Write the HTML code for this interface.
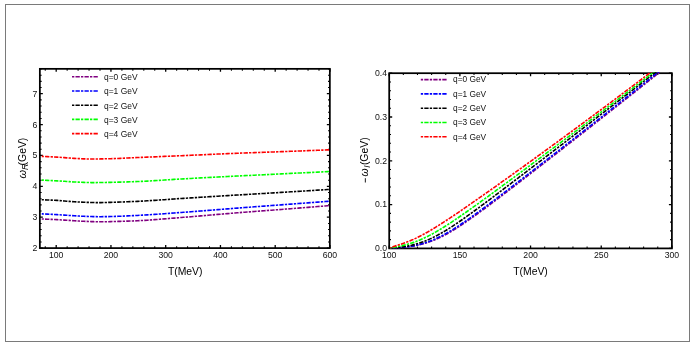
<!DOCTYPE html>
<html><head><meta charset="utf-8"><title>plot</title>
<style>
html,body{margin:0;padding:0;background:#fff;}
svg{display:block;will-change:transform;}
text{font-family:"Liberation Sans", sans-serif;fill:#111;}
.a{fill:#000;}
.t{font-size:8.7px;}
.a{font-size:10.4px;}
</style></head><body>
<svg width="695" height="346" viewBox="0 0 695 346">
<rect x="0" y="0" width="695" height="346" fill="#fff"/>
<rect x="5.5" y="4.5" width="684" height="337" fill="none" stroke="#7a7a7a" stroke-width="1"/>
<defs>
<clipPath id="cl"><rect x="41.45" y="68.85" width="289.3" height="179.25"/></clipPath>
<clipPath id="cr"><rect x="390.09999999999997" y="72.3" width="282.7" height="176.2"/></clipPath>
</defs>

<rect x="39.85" y="68.85" width="290.00" height="179.25" fill="none" stroke="#000" stroke-width="1.75"/>
<rect x="389.2" y="73.2" width="282.70" height="175.20" fill="none" stroke="#000" stroke-width="1.75"/>
<path d="M56.20,248.1v-3.0M56.20,68.85v3.0M110.95,248.1v-3.0M110.95,68.85v3.0M165.70,248.1v-3.0M165.70,68.85v3.0M220.45,248.1v-3.0M220.45,68.85v3.0M275.20,248.1v-3.0M275.20,68.85v3.0M329.95,248.1v-3.0M329.95,68.85v3.0M39.85,248.10h3.0M329.85,248.10h-3.0M39.85,217.22h3.0M329.85,217.22h-3.0M39.85,186.34h3.0M329.85,186.34h-3.0M39.85,155.46h3.0M329.85,155.46h-3.0M39.85,124.58h3.0M329.85,124.58h-3.0M39.85,93.70h3.0M329.85,93.70h-3.0" stroke="#000" stroke-width="1.3" fill="none"/><path d="M45.25,248.1v-1.8M45.25,68.85v1.8M67.15,248.1v-1.8M67.15,68.85v1.8M78.10,248.1v-1.8M78.10,68.85v1.8M89.05,248.1v-1.8M89.05,68.85v1.8M100.00,248.1v-1.8M100.00,68.85v1.8M121.90,248.1v-1.8M121.90,68.85v1.8M132.85,248.1v-1.8M132.85,68.85v1.8M143.80,248.1v-1.8M143.80,68.85v1.8M154.75,248.1v-1.8M154.75,68.85v1.8M176.65,248.1v-1.8M176.65,68.85v1.8M187.60,248.1v-1.8M187.60,68.85v1.8M198.55,248.1v-1.8M198.55,68.85v1.8M209.50,248.1v-1.8M209.50,68.85v1.8M231.40,248.1v-1.8M231.40,68.85v1.8M242.35,248.1v-1.8M242.35,68.85v1.8M253.30,248.1v-1.8M253.30,68.85v1.8M264.25,248.1v-1.8M264.25,68.85v1.8M286.15,248.1v-1.8M286.15,68.85v1.8M297.10,248.1v-1.8M297.10,68.85v1.8M308.05,248.1v-1.8M308.05,68.85v1.8M319.00,248.1v-1.8M319.00,68.85v1.8M39.85,241.92h1.8M329.85,241.92h-1.8M39.85,235.75h1.8M329.85,235.75h-1.8M39.85,229.57h1.8M329.85,229.57h-1.8M39.85,223.40h1.8M329.85,223.40h-1.8M39.85,211.04h1.8M329.85,211.04h-1.8M39.85,204.87h1.8M329.85,204.87h-1.8M39.85,198.69h1.8M329.85,198.69h-1.8M39.85,192.52h1.8M329.85,192.52h-1.8M39.85,180.16h1.8M329.85,180.16h-1.8M39.85,173.99h1.8M329.85,173.99h-1.8M39.85,167.81h1.8M329.85,167.81h-1.8M39.85,161.64h1.8M329.85,161.64h-1.8M39.85,149.28h1.8M329.85,149.28h-1.8M39.85,143.11h1.8M329.85,143.11h-1.8M39.85,136.93h1.8M329.85,136.93h-1.8M39.85,130.76h1.8M329.85,130.76h-1.8M39.85,118.40h1.8M329.85,118.40h-1.8M39.85,112.23h1.8M329.85,112.23h-1.8M39.85,106.05h1.8M329.85,106.05h-1.8M39.85,99.88h1.8M329.85,99.88h-1.8M39.85,87.52h1.8M329.85,87.52h-1.8M39.85,81.35h1.8M329.85,81.35h-1.8M39.85,75.17h1.8M329.85,75.17h-1.8M39.85,69.00h1.8M329.85,69.00h-1.8" stroke="#000" stroke-width="1.05" fill="none"/>
<path d="M389.20,248.4v-3.0M389.20,73.2v3.0M459.88,248.4v-3.0M459.88,73.2v3.0M530.55,248.4v-3.0M530.55,73.2v3.0M601.23,248.4v-3.0M601.23,73.2v3.0M671.90,248.4v-3.0M671.90,73.2v3.0M389.2,248.40h3.0M671.9,248.40h-3.0M389.2,204.60h3.0M671.9,204.60h-3.0M389.2,160.80h3.0M671.9,160.80h-3.0M389.2,117.00h3.0M671.9,117.00h-3.0M389.2,73.20h3.0M671.9,73.20h-3.0" stroke="#000" stroke-width="1.3" fill="none"/><path d="M403.33,248.4v-1.8M403.33,73.2v1.8M417.47,248.4v-1.8M417.47,73.2v1.8M431.61,248.4v-1.8M431.61,73.2v1.8M445.74,248.4v-1.8M445.74,73.2v1.8M474.01,248.4v-1.8M474.01,73.2v1.8M488.14,248.4v-1.8M488.14,73.2v1.8M502.28,248.4v-1.8M502.28,73.2v1.8M516.41,248.4v-1.8M516.41,73.2v1.8M544.68,248.4v-1.8M544.68,73.2v1.8M558.82,248.4v-1.8M558.82,73.2v1.8M572.95,248.4v-1.8M572.95,73.2v1.8M587.09,248.4v-1.8M587.09,73.2v1.8M615.36,248.4v-1.8M615.36,73.2v1.8M629.50,248.4v-1.8M629.50,73.2v1.8M643.63,248.4v-1.8M643.63,73.2v1.8M657.76,248.4v-1.8M657.76,73.2v1.8M389.2,239.64h1.8M671.9,239.64h-1.8M389.2,230.88h1.8M671.9,230.88h-1.8M389.2,222.12h1.8M671.9,222.12h-1.8M389.2,213.36h1.8M671.9,213.36h-1.8M389.2,195.84h1.8M671.9,195.84h-1.8M389.2,187.08h1.8M671.9,187.08h-1.8M389.2,178.32h1.8M671.9,178.32h-1.8M389.2,169.56h1.8M671.9,169.56h-1.8M389.2,152.04h1.8M671.9,152.04h-1.8M389.2,143.28h1.8M671.9,143.28h-1.8M389.2,134.52h1.8M671.9,134.52h-1.8M389.2,125.76h1.8M671.9,125.76h-1.8M389.2,108.24h1.8M671.9,108.24h-1.8M389.2,99.48h1.8M671.9,99.48h-1.8M389.2,90.72h1.8M671.9,90.72h-1.8M389.2,81.96h1.8M671.9,81.96h-1.8" stroke="#000" stroke-width="1.05" fill="none"/>
<g clip-path="url(#cl)" fill="none" stroke-width="1.6" stroke-dasharray="2.3 1.2 4.33 1.2">
<path d="M40.00,218.90 L42.44,218.99 L44.87,219.08 L47.31,219.18 L49.74,219.29 L52.18,219.40 L54.62,219.52 L57.05,219.65 L59.49,219.78 L61.93,219.93 L64.36,220.09 L66.80,220.26 L69.23,220.42 L71.67,220.58 L74.11,220.73 L76.54,220.89 L78.98,221.04 L81.41,221.18 L83.85,221.31 L86.29,221.41 L88.72,221.50 L91.16,221.59 L93.59,221.67 L96.03,221.74 L98.47,221.78 L100.90,221.80 L103.34,221.79 L105.78,221.75 L108.21,221.69 L110.65,221.62 L113.08,221.55 L115.52,221.49 L117.96,221.42 L120.39,221.35 L122.83,221.28 L125.26,221.20 L127.70,221.12 L130.14,221.04 L132.57,220.94 L135.01,220.84 L137.45,220.73 L139.88,220.61 L142.32,220.48 L144.75,220.34 L147.19,220.19 L149.63,220.02 L152.06,219.85 L154.50,219.67 L156.93,219.49 L159.37,219.30 L161.81,219.10 L164.24,218.90 L166.68,218.70 L169.12,218.50 L171.55,218.29 L173.99,218.09 L176.42,217.88 L178.86,217.68 L181.30,217.48 L183.73,217.28 L186.17,217.09 L188.60,216.89 L191.04,216.70 L193.48,216.50 L195.91,216.30 L198.35,216.09 L200.78,215.89 L203.22,215.68 L205.66,215.47 L208.09,215.26 L210.53,215.05 L212.97,214.84 L215.40,214.63 L217.84,214.42 L220.27,214.21 L222.71,214.00 L225.15,213.80 L227.58,213.59 L230.02,213.39 L232.45,213.19 L234.89,212.99 L237.33,212.79 L239.76,212.60 L242.20,212.41 L244.64,212.22 L247.07,212.03 L249.51,211.84 L251.94,211.66 L254.38,211.47 L256.82,211.29 L259.25,211.10 L261.69,210.92 L264.12,210.74 L266.56,210.55 L269.00,210.37 L271.43,210.19 L273.87,210.00 L276.31,209.82 L278.74,209.63 L281.18,209.44 L283.61,209.25 L286.05,209.06 L288.49,208.87 L290.92,208.68 L293.36,208.49 L295.79,208.30 L298.23,208.11 L300.67,207.92 L303.10,207.73 L305.54,207.54 L307.97,207.34 L310.41,207.15 L312.85,206.96 L315.28,206.76 L317.72,206.57 L320.16,206.38 L322.59,206.18 L325.03,205.99 L327.46,205.79 L329.90,205.60" stroke="#800080" stroke-dashoffset="7.48"/>
<path d="M40.00,213.80 L42.44,213.91 L44.87,214.02 L47.31,214.13 L49.74,214.25 L52.18,214.38 L54.62,214.51 L57.05,214.65 L59.49,214.79 L61.93,214.94 L64.36,215.10 L66.80,215.26 L69.23,215.43 L71.67,215.58 L74.11,215.73 L76.54,215.89 L78.98,216.05 L81.41,216.19 L83.85,216.32 L86.29,216.41 L88.72,216.49 L91.16,216.56 L93.59,216.62 L96.03,216.67 L98.47,216.70 L100.90,216.70 L103.34,216.67 L105.78,216.63 L108.21,216.58 L110.65,216.52 L113.08,216.45 L115.52,216.39 L117.96,216.31 L120.39,216.23 L122.83,216.13 L125.26,216.03 L127.70,215.91 L130.14,215.80 L132.57,215.67 L135.01,215.55 L137.45,215.43 L139.88,215.29 L142.32,215.16 L144.75,215.01 L147.19,214.86 L149.63,214.71 L152.06,214.55 L154.50,214.39 L156.93,214.22 L159.37,214.05 L161.81,213.88 L164.24,213.70 L166.68,213.53 L169.12,213.35 L171.55,213.17 L173.99,212.99 L176.42,212.81 L178.86,212.62 L181.30,212.44 L183.73,212.27 L186.17,212.09 L188.60,211.91 L191.04,211.73 L193.48,211.54 L195.91,211.36 L198.35,211.17 L200.78,210.98 L203.22,210.79 L205.66,210.60 L208.09,210.40 L210.53,210.21 L212.97,210.02 L215.40,209.82 L217.84,209.63 L220.27,209.43 L222.71,209.24 L225.15,209.04 L227.58,208.85 L230.02,208.66 L232.45,208.47 L234.89,208.28 L237.33,208.10 L239.76,207.91 L242.20,207.73 L244.64,207.55 L247.07,207.36 L249.51,207.18 L251.94,207.00 L254.38,206.82 L256.82,206.64 L259.25,206.46 L261.69,206.28 L264.12,206.10 L266.56,205.92 L269.00,205.74 L271.43,205.56 L273.87,205.38 L276.31,205.20 L278.74,205.02 L281.18,204.84 L283.61,204.65 L286.05,204.47 L288.49,204.29 L290.92,204.11 L293.36,203.93 L295.79,203.75 L298.23,203.56 L300.67,203.38 L303.10,203.20 L305.54,203.02 L307.97,202.84 L310.41,202.66 L312.85,202.47 L315.28,202.29 L317.72,202.11 L320.16,201.93 L322.59,201.75 L325.03,201.56 L327.46,201.38 L329.90,201.20" stroke="#0000ff" stroke-dashoffset="7.48"/>
<path d="M40.00,199.70 L42.44,199.76 L44.87,199.84 L47.31,199.94 L49.74,200.04 L52.18,200.16 L54.62,200.28 L57.05,200.42 L59.49,200.60 L61.93,200.79 L64.36,201.00 L66.80,201.21 L69.23,201.41 L71.67,201.58 L74.11,201.73 L76.54,201.88 L78.98,202.03 L81.41,202.15 L83.85,202.26 L86.29,202.34 L88.72,202.42 L91.16,202.49 L93.59,202.55 L96.03,202.59 L98.47,202.60 L100.90,202.58 L103.34,202.54 L105.78,202.48 L108.21,202.41 L110.65,202.33 L113.08,202.26 L115.52,202.18 L117.96,202.11 L120.39,202.03 L122.83,201.95 L125.26,201.85 L127.70,201.76 L130.14,201.66 L132.57,201.55 L135.01,201.45 L137.45,201.33 L139.88,201.21 L142.32,201.08 L144.75,200.94 L147.19,200.80 L149.63,200.65 L152.06,200.50 L154.50,200.34 L156.93,200.18 L159.37,200.02 L161.81,199.85 L164.24,199.68 L166.68,199.51 L169.12,199.34 L171.55,199.17 L173.99,199.00 L176.42,198.83 L178.86,198.67 L181.30,198.50 L183.73,198.34 L186.17,198.19 L188.60,198.04 L191.04,197.88 L193.48,197.73 L195.91,197.58 L198.35,197.42 L200.78,197.27 L203.22,197.12 L205.66,196.97 L208.09,196.82 L210.53,196.67 L212.97,196.51 L215.40,196.36 L217.84,196.21 L220.27,196.06 L222.71,195.91 L225.15,195.76 L227.58,195.61 L230.02,195.46 L232.45,195.32 L234.89,195.17 L237.33,195.02 L239.76,194.87 L242.20,194.73 L244.64,194.58 L247.07,194.44 L249.51,194.29 L251.94,194.15 L254.38,194.00 L256.82,193.86 L259.25,193.71 L261.69,193.57 L264.12,193.43 L266.56,193.28 L269.00,193.14 L271.43,192.99 L273.87,192.85 L276.31,192.70 L278.74,192.56 L281.18,192.41 L283.61,192.26 L286.05,192.11 L288.49,191.97 L290.92,191.82 L293.36,191.67 L295.79,191.52 L298.23,191.37 L300.67,191.22 L303.10,191.07 L305.54,190.92 L307.97,190.77 L310.41,190.62 L312.85,190.47 L315.28,190.32 L317.72,190.16 L320.16,190.01 L322.59,189.86 L325.03,189.71 L327.46,189.55 L329.90,189.40" stroke="#000000" stroke-dashoffset="7.48"/>
<path d="M40.00,180.00 L42.44,180.11 L44.87,180.22 L47.31,180.33 L49.74,180.46 L52.18,180.58 L54.62,180.71 L57.05,180.85 L59.49,180.99 L61.93,181.15 L64.36,181.32 L66.80,181.50 L69.23,181.67 L71.67,181.83 L74.11,181.96 L76.54,182.07 L78.98,182.17 L81.41,182.28 L83.85,182.38 L86.29,182.46 L88.72,182.53 L91.16,182.58 L93.59,182.60 L96.03,182.59 L98.47,182.57 L100.90,182.54 L103.34,182.49 L105.78,182.44 L108.21,182.38 L110.65,182.33 L113.08,182.28 L115.52,182.22 L117.96,182.16 L120.39,182.10 L122.83,182.03 L125.26,181.96 L127.70,181.89 L130.14,181.81 L132.57,181.72 L135.01,181.64 L137.45,181.54 L139.88,181.44 L142.32,181.33 L144.75,181.21 L147.19,181.08 L149.63,180.95 L152.06,180.81 L154.50,180.66 L156.93,180.52 L159.37,180.36 L161.81,180.21 L164.24,180.05 L166.68,179.89 L169.12,179.73 L171.55,179.58 L173.99,179.42 L176.42,179.27 L178.86,179.12 L181.30,178.97 L183.73,178.83 L186.17,178.69 L188.60,178.56 L191.04,178.43 L193.48,178.29 L195.91,178.16 L198.35,178.03 L200.78,177.91 L203.22,177.78 L205.66,177.65 L208.09,177.52 L210.53,177.40 L212.97,177.27 L215.40,177.15 L217.84,177.02 L220.27,176.90 L222.71,176.77 L225.15,176.65 L227.58,176.53 L230.02,176.40 L232.45,176.28 L234.89,176.16 L237.33,176.03 L239.76,175.91 L242.20,175.79 L244.64,175.67 L247.07,175.55 L249.51,175.43 L251.94,175.31 L254.38,175.19 L256.82,175.07 L259.25,174.95 L261.69,174.84 L264.12,174.72 L266.56,174.60 L269.00,174.48 L271.43,174.36 L273.87,174.25 L276.31,174.13 L278.74,174.01 L281.18,173.89 L283.61,173.77 L286.05,173.65 L288.49,173.53 L290.92,173.41 L293.36,173.29 L295.79,173.17 L298.23,173.05 L300.67,172.93 L303.10,172.81 L305.54,172.70 L307.97,172.58 L310.41,172.46 L312.85,172.34 L315.28,172.22 L317.72,172.10 L320.16,171.98 L322.59,171.86 L325.03,171.74 L327.46,171.62 L329.90,171.50" stroke="#00ff00" stroke-dashoffset="7.48"/>
<path d="M40.00,156.30 L42.44,156.40 L44.87,156.51 L47.31,156.62 L49.74,156.74 L52.18,156.87 L54.62,157.01 L57.05,157.14 L59.49,157.29 L61.93,157.46 L64.36,157.65 L66.80,157.84 L69.23,158.03 L71.67,158.21 L74.11,158.35 L76.54,158.48 L78.98,158.60 L81.41,158.72 L83.85,158.83 L86.29,158.92 L88.72,158.98 L91.16,159.00 L93.59,158.99 L96.03,158.97 L98.47,158.94 L100.90,158.90 L103.34,158.85 L105.78,158.80 L108.21,158.74 L110.65,158.68 L113.08,158.62 L115.52,158.53 L117.96,158.44 L120.39,158.33 L122.83,158.22 L125.26,158.11 L127.70,157.99 L130.14,157.87 L132.57,157.75 L135.01,157.64 L137.45,157.54 L139.88,157.44 L142.32,157.33 L144.75,157.23 L147.19,157.13 L149.63,157.03 L152.06,156.93 L154.50,156.83 L156.93,156.72 L159.37,156.62 L161.81,156.52 L164.24,156.42 L166.68,156.32 L169.12,156.22 L171.55,156.11 L173.99,156.01 L176.42,155.91 L178.86,155.80 L181.30,155.70 L183.73,155.60 L186.17,155.49 L188.60,155.39 L191.04,155.28 L193.48,155.17 L195.91,155.06 L198.35,154.95 L200.78,154.84 L203.22,154.73 L205.66,154.62 L208.09,154.51 L210.53,154.40 L212.97,154.29 L215.40,154.18 L217.84,154.07 L220.27,153.96 L222.71,153.86 L225.15,153.75 L227.58,153.65 L230.02,153.54 L232.45,153.44 L234.89,153.34 L237.33,153.25 L239.76,153.15 L242.20,153.06 L244.64,152.97 L247.07,152.88 L249.51,152.79 L251.94,152.70 L254.38,152.62 L256.82,152.53 L259.25,152.44 L261.69,152.36 L264.12,152.27 L266.56,152.19 L269.00,152.10 L271.43,152.02 L273.87,151.93 L276.31,151.84 L278.74,151.76 L281.18,151.67 L283.61,151.58 L286.05,151.49 L288.49,151.39 L290.92,151.30 L293.36,151.21 L295.79,151.12 L298.23,151.03 L300.67,150.93 L303.10,150.84 L305.54,150.75 L307.97,150.65 L310.41,150.56 L312.85,150.47 L315.28,150.37 L317.72,150.28 L320.16,150.18 L322.59,150.09 L325.03,149.99 L327.46,149.90 L329.90,149.80" stroke="#ff0000" stroke-dashoffset="7.48"/>
</g>
<g clip-path="url(#cr)" fill="none" stroke-width="1.6" stroke-dasharray="2.3 1.2 4.33 1.2">
<path d="M389.20,248.40 L390.28,248.35 L391.35,248.30 L392.43,248.24 L393.51,248.18 L394.58,248.12 L395.66,248.05 L396.74,247.97 L397.81,247.89 L398.89,247.81 L399.96,247.72 L401.04,247.63 L402.12,247.52 L403.19,247.42 L404.27,247.30 L405.35,247.18 L406.42,247.05 L407.50,246.92 L408.58,246.77 L409.65,246.62 L410.73,246.46 L411.81,246.28 L412.88,246.10 L413.96,245.91 L415.03,245.71 L416.11,245.50 L417.19,245.28 L418.26,245.04 L419.34,244.80 L420.42,244.54 L421.49,244.27 L422.57,243.98 L423.65,243.69 L424.72,243.38 L425.80,243.05 L426.88,242.72 L427.95,242.37 L429.03,242.00 L430.11,241.62 L431.18,241.23 L432.26,240.82 L433.33,240.40 L434.41,239.97 L435.49,239.52 L436.56,239.05 L437.64,238.58 L438.72,238.09 L439.79,237.58 L440.87,237.06 L441.95,236.53 L443.02,235.99 L444.10,235.43 L445.18,234.86 L446.25,234.28 L447.33,233.69 L448.40,233.08 L449.48,232.47 L450.56,231.84 L451.63,231.21 L452.71,230.56 L453.79,229.91 L454.86,229.24 L455.94,228.57 L457.02,227.89 L458.09,227.20 L459.17,226.50 L460.25,225.80 L461.32,225.09 L462.40,224.37 L463.47,223.65 L464.55,222.92 L465.63,222.18 L466.70,221.44 L467.78,220.70 L468.86,219.95 L469.93,219.19 L471.01,218.43 L472.09,217.67 L473.16,216.90 L474.24,216.13 L475.32,215.36 L476.39,214.58 L477.47,213.80 L478.55,213.02 L479.62,212.23 L480.70,211.44 L481.77,210.65 L482.85,209.86 L483.93,209.06 L485.00,208.26 L486.08,207.46 L487.16,206.66 L488.23,205.86 L489.31,205.05 L490.39,204.25 L491.46,203.44 L492.54,202.63 L493.62,201.82 L494.69,201.01 L495.77,200.19 L496.84,199.38 L497.92,198.57 L499.00,197.75 L500.07,196.93 L501.15,196.12 L502.23,195.30 L503.30,194.48 L504.38,193.66 L505.46,192.84 L506.53,192.02 L507.61,191.19 L508.69,190.37 L509.76,189.55 L510.84,188.72 L511.92,187.90 L512.99,187.07 L514.07,186.25 L515.14,185.42 L516.22,184.60 L517.30,183.77 L518.37,182.94 L519.45,182.11 L520.53,181.28 L521.60,180.46 L522.68,179.63 L523.76,178.80 L524.83,177.97 L525.91,177.14 L526.99,176.31 L528.06,175.48 L529.14,174.65 L530.21,173.81 L531.29,172.98 L532.37,172.15 L533.44,171.32 L534.52,170.49 L535.60,169.65 L536.67,168.82 L537.75,167.99 L538.83,167.15 L539.90,166.32 L540.98,165.49 L542.06,164.65 L543.13,163.82 L544.21,162.98 L545.28,162.15 L546.36,161.31 L547.44,160.48 L548.51,159.64 L549.59,158.80 L550.67,157.97 L551.74,157.13 L552.82,156.29 L553.90,155.46 L554.97,154.62 L556.05,153.78 L557.13,152.94 L558.20,152.11 L559.28,151.27 L560.36,150.43 L561.43,149.59 L562.51,148.75 L563.58,147.91 L564.66,147.07 L565.74,146.24 L566.81,145.40 L567.89,144.56 L568.97,143.72 L570.04,142.88 L571.12,142.03 L572.20,141.19 L573.27,140.35 L574.35,139.51 L575.43,138.67 L576.50,137.83 L577.58,136.99 L578.65,136.15 L579.73,135.30 L580.81,134.46 L581.88,133.62 L582.96,132.78 L584.04,131.93 L585.11,131.09 L586.19,130.25 L587.27,129.40 L588.34,128.56 L589.42,127.71 L590.50,126.87 L591.57,126.02 L592.65,125.18 L593.73,124.34 L594.80,123.49 L595.88,122.64 L596.95,121.80 L598.03,120.95 L599.11,120.11 L600.18,119.26 L601.26,118.41 L602.34,117.57 L603.41,116.72 L604.49,115.87 L605.57,115.03 L606.64,114.18 L607.72,113.33 L608.80,112.48 L609.87,111.64 L610.95,110.79 L612.02,109.94 L613.10,109.09 L614.18,108.24 L615.25,107.39 L616.33,106.54 L617.41,105.69 L618.48,104.84 L619.56,103.99 L620.64,103.14 L621.71,102.29 L622.79,101.44 L623.87,100.59 L624.94,99.74 L626.02,98.89 L627.09,98.04 L628.17,97.19 L629.25,96.34 L630.32,95.48 L631.40,94.63 L632.48,93.78 L633.55,92.93 L634.63,92.07 L635.71,91.22 L636.78,90.37 L637.86,89.51 L638.94,88.66 L640.01,87.81 L641.09,86.95 L642.17,86.10 L643.24,85.24 L644.32,84.39 L645.39,83.53 L646.47,82.68 L647.55,81.82 L648.62,80.97 L649.70,80.11 L650.78,79.26 L651.85,78.40 L652.93,77.54 L654.01,76.69 L655.08,75.83 L656.16,74.97 L657.24,74.12 L658.31,73.26 L659.39,72.40 L660.46,71.54 L661.54,70.69 L662.62,69.83 L663.69,68.97 L664.77,68.11 L665.85,67.25 L666.92,66.39 L668.00,65.53" stroke="#800080" stroke-dashoffset="0"/>
<path d="M389.20,248.40 L390.28,248.34 L391.35,248.29 L392.43,248.22 L393.51,248.16 L394.58,248.08 L395.66,248.01 L396.74,247.93 L397.81,247.84 L398.89,247.75 L399.96,247.65 L401.04,247.54 L402.12,247.43 L403.19,247.31 L404.27,247.18 L405.35,247.05 L406.42,246.91 L407.50,246.76 L408.58,246.60 L409.65,246.43 L410.73,246.25 L411.81,246.07 L412.88,245.87 L413.96,245.66 L415.03,245.44 L416.11,245.21 L417.19,244.97 L418.26,244.72 L419.34,244.45 L420.42,244.17 L421.49,243.88 L422.57,243.58 L423.65,243.26 L424.72,242.92 L425.80,242.58 L426.88,242.22 L427.95,241.85 L429.03,241.46 L430.11,241.06 L431.18,240.64 L432.26,240.21 L433.33,239.77 L434.41,239.31 L435.49,238.83 L436.56,238.35 L437.64,237.85 L438.72,237.33 L439.79,236.81 L440.87,236.27 L441.95,235.72 L443.02,235.15 L444.10,234.57 L445.18,233.99 L446.25,233.39 L447.33,232.77 L448.40,232.15 L449.48,231.52 L450.56,230.88 L451.63,230.23 L452.71,229.57 L453.79,228.90 L454.86,228.22 L455.94,227.53 L457.02,226.84 L458.09,226.14 L459.17,225.43 L460.25,224.72 L461.32,223.99 L462.40,223.27 L463.47,222.53 L464.55,221.80 L465.63,221.05 L466.70,220.30 L467.78,219.55 L468.86,218.79 L469.93,218.03 L471.01,217.27 L472.09,216.50 L473.16,215.72 L474.24,214.95 L475.32,214.17 L476.39,213.39 L477.47,212.60 L478.55,211.81 L479.62,211.02 L480.70,210.23 L481.77,209.44 L482.85,208.64 L483.93,207.84 L485.00,207.04 L486.08,206.24 L487.16,205.43 L488.23,204.63 L489.31,203.82 L490.39,203.01 L491.46,202.20 L492.54,201.39 L493.62,200.58 L494.69,199.77 L495.77,198.95 L496.84,198.14 L497.92,197.32 L499.00,196.50 L500.07,195.69 L501.15,194.87 L502.23,194.05 L503.30,193.23 L504.38,192.41 L505.46,191.58 L506.53,190.76 L507.61,189.94 L508.69,189.12 L509.76,188.29 L510.84,187.47 L511.92,186.64 L512.99,185.82 L514.07,184.99 L515.14,184.16 L516.22,183.34 L517.30,182.51 L518.37,181.68 L519.45,180.85 L520.53,180.03 L521.60,179.20 L522.68,178.37 L523.76,177.54 L524.83,176.71 L525.91,175.88 L526.99,175.05 L528.06,174.22 L529.14,173.39 L530.21,172.55 L531.29,171.72 L532.37,170.89 L533.44,170.06 L534.52,169.22 L535.60,168.39 L536.67,167.56 L537.75,166.73 L538.83,165.89 L539.90,165.06 L540.98,164.22 L542.06,163.39 L543.13,162.55 L544.21,161.72 L545.28,160.88 L546.36,160.05 L547.44,159.21 L548.51,158.38 L549.59,157.54 L550.67,156.70 L551.74,155.87 L552.82,155.03 L553.90,154.19 L554.97,153.36 L556.05,152.52 L557.13,151.68 L558.20,150.84 L559.28,150.01 L560.36,149.17 L561.43,148.33 L562.51,147.49 L563.58,146.65 L564.66,145.81 L565.74,144.97 L566.81,144.13 L567.89,143.29 L568.97,142.45 L570.04,141.61 L571.12,140.77 L572.20,139.93 L573.27,139.09 L574.35,138.25 L575.43,137.41 L576.50,136.57 L577.58,135.72 L578.65,134.88 L579.73,134.04 L580.81,133.20 L581.88,132.35 L582.96,131.51 L584.04,130.67 L585.11,129.83 L586.19,128.98 L587.27,128.14 L588.34,127.29 L589.42,126.45 L590.50,125.61 L591.57,124.76 L592.65,123.92 L593.73,123.07 L594.80,122.23 L595.88,121.38 L596.95,120.54 L598.03,119.69 L599.11,118.84 L600.18,118.00 L601.26,117.15 L602.34,116.30 L603.41,115.46 L604.49,114.61 L605.57,113.76 L606.64,112.92 L607.72,112.07 L608.80,111.22 L609.87,110.37 L610.95,109.52 L612.02,108.68 L613.10,107.83 L614.18,106.98 L615.25,106.13 L616.33,105.28 L617.41,104.43 L618.48,103.58 L619.56,102.73 L620.64,101.88 L621.71,101.03 L622.79,100.18 L623.87,99.33 L624.94,98.48 L626.02,97.63 L627.09,96.78 L628.17,95.92 L629.25,95.07 L630.32,94.22 L631.40,93.37 L632.48,92.52 L633.55,91.66 L634.63,90.81 L635.71,89.96 L636.78,89.10 L637.86,88.25 L638.94,87.40 L640.01,86.54 L641.09,85.69 L642.17,84.84 L643.24,83.98 L644.32,83.13 L645.39,82.27 L646.47,81.42 L647.55,80.56 L648.62,79.71 L649.70,78.85 L650.78,77.99 L651.85,77.14 L652.93,76.28 L654.01,75.42 L655.08,74.57 L656.16,73.71 L657.24,72.85 L658.31,72.00 L659.39,71.14 L660.46,70.28 L661.54,69.42 L662.62,68.57 L663.69,67.71 L664.77,66.85 L665.85,65.99 L666.92,65.13 L668.00,64.27" stroke="#0000ff" stroke-dashoffset="0"/>
<path d="M389.20,248.40 L390.28,248.32 L391.35,248.23 L392.43,248.14 L393.51,248.04 L394.58,247.94 L395.66,247.83 L396.74,247.71 L397.81,247.59 L398.89,247.46 L399.96,247.32 L401.04,247.17 L402.12,247.01 L403.19,246.85 L404.27,246.67 L405.35,246.49 L406.42,246.29 L407.50,246.09 L408.58,245.87 L409.65,245.65 L410.73,245.41 L411.81,245.16 L412.88,244.90 L413.96,244.62 L415.03,244.33 L416.11,244.03 L417.19,243.72 L418.26,243.39 L419.34,243.05 L420.42,242.70 L421.49,242.33 L422.57,241.95 L423.65,241.55 L424.72,241.14 L425.80,240.72 L426.88,240.28 L427.95,239.83 L429.03,239.36 L430.11,238.88 L431.18,238.39 L432.26,237.88 L433.33,237.36 L434.41,236.83 L435.49,236.28 L436.56,235.73 L437.64,235.16 L438.72,234.57 L439.79,233.98 L440.87,233.38 L441.95,232.76 L443.02,232.14 L444.10,231.50 L445.18,230.86 L446.25,230.20 L447.33,229.54 L448.40,228.87 L449.48,228.19 L450.56,227.50 L451.63,226.80 L452.71,226.10 L453.79,225.39 L454.86,224.68 L455.94,223.96 L457.02,223.23 L458.09,222.50 L459.17,221.76 L460.25,221.02 L461.32,220.27 L462.40,219.52 L463.47,218.76 L464.55,218.00 L465.63,217.24 L466.70,216.47 L467.78,215.70 L468.86,214.93 L469.93,214.15 L471.01,213.37 L472.09,212.59 L473.16,211.80 L474.24,211.02 L475.32,210.23 L476.39,209.44 L477.47,208.64 L478.55,207.85 L479.62,207.05 L480.70,206.26 L481.77,205.46 L482.85,204.65 L483.93,203.85 L485.00,203.05 L486.08,202.24 L487.16,201.44 L488.23,200.63 L489.31,199.82 L490.39,199.02 L491.46,198.21 L492.54,197.40 L493.62,196.59 L494.69,195.77 L495.77,194.96 L496.84,194.15 L497.92,193.33 L499.00,192.52 L500.07,191.70 L501.15,190.89 L502.23,190.07 L503.30,189.26 L504.38,188.44 L505.46,187.62 L506.53,186.81 L507.61,185.99 L508.69,185.17 L509.76,184.35 L510.84,183.53 L511.92,182.71 L512.99,181.89 L514.07,181.07 L515.14,180.25 L516.22,179.43 L517.30,178.61 L518.37,177.79 L519.45,176.97 L520.53,176.15 L521.60,175.33 L522.68,174.51 L523.76,173.69 L524.83,172.86 L525.91,172.04 L526.99,171.22 L528.06,170.40 L529.14,169.58 L530.21,168.75 L531.29,167.93 L532.37,167.11 L533.44,166.28 L534.52,165.46 L535.60,164.64 L536.67,163.81 L537.75,162.99 L538.83,162.17 L539.90,161.34 L540.98,160.52 L542.06,159.70 L543.13,158.87 L544.21,158.05 L545.28,157.22 L546.36,156.40 L547.44,155.57 L548.51,154.75 L549.59,153.92 L550.67,153.10 L551.74,152.27 L552.82,151.45 L553.90,150.62 L554.97,149.80 L556.05,148.97 L557.13,148.15 L558.20,147.32 L559.28,146.50 L560.36,145.67 L561.43,144.84 L562.51,144.02 L563.58,143.19 L564.66,142.37 L565.74,141.54 L566.81,140.71 L567.89,139.89 L568.97,139.06 L570.04,138.23 L571.12,137.41 L572.20,136.58 L573.27,135.75 L574.35,134.93 L575.43,134.10 L576.50,133.27 L577.58,132.44 L578.65,131.62 L579.73,130.79 L580.81,129.96 L581.88,129.13 L582.96,128.31 L584.04,127.48 L585.11,126.65 L586.19,125.82 L587.27,125.00 L588.34,124.17 L589.42,123.34 L590.50,122.51 L591.57,121.68 L592.65,120.85 L593.73,120.03 L594.80,119.20 L595.88,118.37 L596.95,117.54 L598.03,116.71 L599.11,115.88 L600.18,115.05 L601.26,114.22 L602.34,113.40 L603.41,112.57 L604.49,111.74 L605.57,110.91 L606.64,110.08 L607.72,109.25 L608.80,108.42 L609.87,107.59 L610.95,106.76 L612.02,105.93 L613.10,105.10 L614.18,104.27 L615.25,103.44 L616.33,102.61 L617.41,101.78 L618.48,100.95 L619.56,100.12 L620.64,99.29 L621.71,98.46 L622.79,97.62 L623.87,96.79 L624.94,95.96 L626.02,95.13 L627.09,94.30 L628.17,93.47 L629.25,92.64 L630.32,91.81 L631.40,90.98 L632.48,90.14 L633.55,89.31 L634.63,88.48 L635.71,87.65 L636.78,86.82 L637.86,85.99 L638.94,85.15 L640.01,84.32 L641.09,83.49 L642.17,82.66 L643.24,81.82 L644.32,80.99 L645.39,80.16 L646.47,79.33 L647.55,78.49 L648.62,77.66 L649.70,76.83 L650.78,76.00 L651.85,75.16 L652.93,74.33 L654.01,73.50 L655.08,72.66 L656.16,71.83 L657.24,71.00 L658.31,70.16 L659.39,69.33 L660.46,68.50 L661.54,67.66 L662.62,66.83 L663.69,65.99 L664.77,65.16 L665.85,64.33 L666.92,63.49 L668.00,62.66" stroke="#000000" stroke-dashoffset="0"/>
<path d="M389.20,248.40 L390.28,248.12 L391.35,247.87 L392.43,247.63 L393.51,247.41 L394.58,247.19 L395.66,246.98 L396.74,246.77 L397.81,246.56 L398.89,246.34 L399.96,246.12 L401.04,245.89 L402.12,245.65 L403.19,245.40 L404.27,245.14 L405.35,244.87 L406.42,244.59 L407.50,244.30 L408.58,243.99 L409.65,243.67 L410.73,243.34 L411.81,242.99 L412.88,242.63 L413.96,242.26 L415.03,241.87 L416.11,241.47 L417.19,241.06 L418.26,240.63 L419.34,240.19 L420.42,239.73 L421.49,239.27 L422.57,238.79 L423.65,238.29 L424.72,237.79 L425.80,237.27 L426.88,236.75 L427.95,236.21 L429.03,235.66 L430.11,235.09 L431.18,234.52 L432.26,233.94 L433.33,233.35 L434.41,232.75 L435.49,232.14 L436.56,231.52 L437.64,230.89 L438.72,230.25 L439.79,229.61 L440.87,228.96 L441.95,228.30 L443.02,227.64 L444.10,226.96 L445.18,226.29 L446.25,225.60 L447.33,224.91 L448.40,224.21 L449.48,223.51 L450.56,222.81 L451.63,222.10 L452.71,221.38 L453.79,220.66 L454.86,219.94 L455.94,219.21 L457.02,218.48 L458.09,217.74 L459.17,217.01 L460.25,216.26 L461.32,215.52 L462.40,214.77 L463.47,214.02 L464.55,213.27 L465.63,212.52 L466.70,211.76 L467.78,211.00 L468.86,210.24 L469.93,209.47 L471.01,208.71 L472.09,207.94 L473.16,207.17 L474.24,206.40 L475.32,205.63 L476.39,204.86 L477.47,204.08 L478.55,203.31 L479.62,202.53 L480.70,201.75 L481.77,200.97 L482.85,200.19 L483.93,199.41 L485.00,198.63 L486.08,197.85 L487.16,197.06 L488.23,196.28 L489.31,195.49 L490.39,194.71 L491.46,193.92 L492.54,193.13 L493.62,192.34 L494.69,191.56 L495.77,190.77 L496.84,189.98 L497.92,189.19 L499.00,188.39 L500.07,187.60 L501.15,186.81 L502.23,186.02 L503.30,185.22 L504.38,184.43 L505.46,183.64 L506.53,182.84 L507.61,182.05 L508.69,181.25 L509.76,180.46 L510.84,179.66 L511.92,178.87 L512.99,178.07 L514.07,177.27 L515.14,176.48 L516.22,175.68 L517.30,174.88 L518.37,174.08 L519.45,173.29 L520.53,172.49 L521.60,171.69 L522.68,170.89 L523.76,170.09 L524.83,169.29 L525.91,168.49 L526.99,167.69 L528.06,166.89 L529.14,166.09 L530.21,165.29 L531.29,164.49 L532.37,163.69 L533.44,162.88 L534.52,162.08 L535.60,161.28 L536.67,160.48 L537.75,159.68 L538.83,158.87 L539.90,158.07 L540.98,157.27 L542.06,156.46 L543.13,155.66 L544.21,154.86 L545.28,154.05 L546.36,153.25 L547.44,152.44 L548.51,151.64 L549.59,150.83 L550.67,150.03 L551.74,149.22 L552.82,148.42 L553.90,147.61 L554.97,146.81 L556.05,146.00 L557.13,145.19 L558.20,144.39 L559.28,143.58 L560.36,142.77 L561.43,141.97 L562.51,141.16 L563.58,140.35 L564.66,139.54 L565.74,138.74 L566.81,137.93 L567.89,137.12 L568.97,136.31 L570.04,135.50 L571.12,134.69 L572.20,133.89 L573.27,133.08 L574.35,132.27 L575.43,131.46 L576.50,130.65 L577.58,129.84 L578.65,129.03 L579.73,128.22 L580.81,127.41 L581.88,126.60 L582.96,125.78 L584.04,124.97 L585.11,124.16 L586.19,123.35 L587.27,122.54 L588.34,121.73 L589.42,120.92 L590.50,120.10 L591.57,119.29 L592.65,118.48 L593.73,117.66 L594.80,116.85 L595.88,116.04 L596.95,115.23 L598.03,114.41 L599.11,113.60 L600.18,112.78 L601.26,111.97 L602.34,111.16 L603.41,110.34 L604.49,109.53 L605.57,108.71 L606.64,107.90 L607.72,107.08 L608.80,106.26 L609.87,105.45 L610.95,104.63 L612.02,103.82 L613.10,103.00 L614.18,102.18 L615.25,101.37 L616.33,100.55 L617.41,99.73 L618.48,98.92 L619.56,98.10 L620.64,97.28 L621.71,96.46 L622.79,95.65 L623.87,94.83 L624.94,94.01 L626.02,93.19 L627.09,92.37 L628.17,91.55 L629.25,90.73 L630.32,89.91 L631.40,89.09 L632.48,88.27 L633.55,87.45 L634.63,86.63 L635.71,85.81 L636.78,84.99 L637.86,84.17 L638.94,83.35 L640.01,82.53 L641.09,81.71 L642.17,80.89 L643.24,80.07 L644.32,79.25 L645.39,78.42 L646.47,77.60 L647.55,76.78 L648.62,75.96 L649.70,75.13 L650.78,74.31 L651.85,73.49 L652.93,72.66 L654.01,71.84 L655.08,71.02 L656.16,70.19 L657.24,69.37 L658.31,68.54 L659.39,67.72 L660.46,66.90 L661.54,66.07 L662.62,65.25 L663.69,64.42 L664.77,63.59 L665.85,62.77 L666.92,61.94 L668.00,61.12" stroke="#00ff00" stroke-dashoffset="0"/>
<path d="M389.20,248.40 L390.28,247.88 L391.35,247.42 L392.43,246.99 L393.51,246.60 L394.58,246.23 L395.66,245.87 L396.74,245.53 L397.81,245.19 L398.89,244.84 L399.96,244.50 L401.04,244.15 L402.12,243.79 L403.19,243.43 L404.27,243.05 L405.35,242.66 L406.42,242.27 L407.50,241.85 L408.58,241.43 L409.65,241.00 L410.73,240.55 L411.81,240.08 L412.88,239.61 L413.96,239.12 L415.03,238.63 L416.11,238.12 L417.19,237.59 L418.26,237.06 L419.34,236.52 L420.42,235.96 L421.49,235.40 L422.57,234.83 L423.65,234.24 L424.72,233.65 L425.80,233.05 L426.88,232.44 L427.95,231.83 L429.03,231.20 L430.11,230.57 L431.18,229.94 L432.26,229.29 L433.33,228.64 L434.41,227.99 L435.49,227.33 L436.56,226.66 L437.64,225.99 L438.72,225.31 L439.79,224.63 L440.87,223.95 L441.95,223.26 L443.02,222.57 L444.10,221.87 L445.18,221.17 L446.25,220.47 L447.33,219.76 L448.40,219.05 L449.48,218.34 L450.56,217.63 L451.63,216.91 L452.71,216.19 L453.79,215.47 L454.86,214.74 L455.94,214.02 L457.02,213.29 L458.09,212.56 L459.17,211.83 L460.25,211.10 L461.32,210.36 L462.40,209.62 L463.47,208.89 L464.55,208.15 L465.63,207.41 L466.70,206.66 L467.78,205.92 L468.86,205.18 L469.93,204.43 L471.01,203.69 L472.09,202.94 L473.16,202.19 L474.24,201.44 L475.32,200.69 L476.39,199.94 L477.47,199.19 L478.55,198.43 L479.62,197.68 L480.70,196.92 L481.77,196.17 L482.85,195.41 L483.93,194.66 L485.00,193.90 L486.08,193.14 L487.16,192.38 L488.23,191.62 L489.31,190.86 L490.39,190.10 L491.46,189.34 L492.54,188.58 L493.62,187.82 L494.69,187.05 L495.77,186.29 L496.84,185.53 L497.92,184.76 L499.00,184.00 L500.07,183.23 L501.15,182.47 L502.23,181.70 L503.30,180.93 L504.38,180.17 L505.46,179.40 L506.53,178.63 L507.61,177.86 L508.69,177.09 L509.76,176.32 L510.84,175.55 L511.92,174.78 L512.99,174.01 L514.07,173.24 L515.14,172.47 L516.22,171.70 L517.30,170.92 L518.37,170.15 L519.45,169.38 L520.53,168.60 L521.60,167.83 L522.68,167.06 L523.76,166.28 L524.83,165.51 L525.91,164.73 L526.99,163.95 L528.06,163.18 L529.14,162.40 L530.21,161.62 L531.29,160.85 L532.37,160.07 L533.44,159.29 L534.52,158.51 L535.60,157.73 L536.67,156.95 L537.75,156.17 L538.83,155.39 L539.90,154.61 L540.98,153.83 L542.06,153.05 L543.13,152.27 L544.21,151.48 L545.28,150.70 L546.36,149.92 L547.44,149.14 L548.51,148.35 L549.59,147.57 L550.67,146.78 L551.74,146.00 L552.82,145.21 L553.90,144.43 L554.97,143.64 L556.05,142.86 L557.13,142.07 L558.20,141.28 L559.28,140.49 L560.36,139.71 L561.43,138.92 L562.51,138.13 L563.58,137.34 L564.66,136.55 L565.74,135.76 L566.81,134.97 L567.89,134.18 L568.97,133.39 L570.04,132.60 L571.12,131.81 L572.20,131.02 L573.27,130.23 L574.35,129.43 L575.43,128.64 L576.50,127.85 L577.58,127.05 L578.65,126.26 L579.73,125.46 L580.81,124.67 L581.88,123.87 L582.96,123.08 L584.04,122.28 L585.11,121.49 L586.19,120.69 L587.27,119.89 L588.34,119.10 L589.42,118.30 L590.50,117.50 L591.57,116.70 L592.65,115.90 L593.73,115.10 L594.80,114.30 L595.88,113.50 L596.95,112.70 L598.03,111.90 L599.11,111.10 L600.18,110.30 L601.26,109.50 L602.34,108.70 L603.41,107.90 L604.49,107.09 L605.57,106.29 L606.64,105.49 L607.72,104.68 L608.80,103.88 L609.87,103.07 L610.95,102.27 L612.02,101.46 L613.10,100.66 L614.18,99.85 L615.25,99.04 L616.33,98.24 L617.41,97.43 L618.48,96.62 L619.56,95.81 L620.64,95.01 L621.71,94.20 L622.79,93.39 L623.87,92.58 L624.94,91.77 L626.02,90.96 L627.09,90.15 L628.17,89.34 L629.25,88.53 L630.32,87.71 L631.40,86.90 L632.48,86.09 L633.55,85.28 L634.63,84.46 L635.71,83.65 L636.78,82.84 L637.86,82.02 L638.94,81.21 L640.01,80.39 L641.09,79.58 L642.17,78.76 L643.24,77.95 L644.32,77.13 L645.39,76.31 L646.47,75.50 L647.55,74.68 L648.62,73.86 L649.70,73.04 L650.78,72.22 L651.85,71.41 L652.93,70.59 L654.01,69.77 L655.08,68.95 L656.16,68.13 L657.24,67.31 L658.31,66.48 L659.39,65.66 L660.46,64.84 L661.54,64.02 L662.62,63.20 L663.69,62.37 L664.77,61.55 L665.85,60.73 L666.92,59.90 L668.00,59.08" stroke="#ff0000" stroke-dashoffset="0"/>
</g>
<text class="t" x="56.20" y="258.2" text-anchor="middle">100</text>
<text class="t" x="110.95" y="258.2" text-anchor="middle">200</text>
<text class="t" x="165.70" y="258.2" text-anchor="middle">300</text>
<text class="t" x="220.45" y="258.2" text-anchor="middle">400</text>
<text class="t" x="275.20" y="258.2" text-anchor="middle">500</text>
<text class="t" x="329.95" y="258.2" text-anchor="middle">600</text>
<text class="t" x="37.4" y="251.10" text-anchor="end">2</text>
<text class="t" x="37.4" y="220.22" text-anchor="end">3</text>
<text class="t" x="37.4" y="189.34" text-anchor="end">4</text>
<text class="t" x="37.4" y="158.46" text-anchor="end">5</text>
<text class="t" x="37.4" y="127.58" text-anchor="end">6</text>
<text class="t" x="37.4" y="96.70" text-anchor="end">7</text>
<text class="t" x="389.20" y="258.4" text-anchor="middle">100</text>
<text class="t" x="459.88" y="258.4" text-anchor="middle">150</text>
<text class="t" x="530.55" y="258.4" text-anchor="middle">200</text>
<text class="t" x="601.23" y="258.4" text-anchor="middle">250</text>
<text class="t" x="671.90" y="258.4" text-anchor="middle">300</text>
<text class="t" x="387.1" y="250.90" text-anchor="end">0.0</text>
<text class="t" x="387.1" y="207.23" text-anchor="end">0.1</text>
<text class="t" x="387.1" y="163.55" text-anchor="end">0.2</text>
<text class="t" x="387.1" y="119.88" text-anchor="end">0.3</text>
<text class="t" x="387.1" y="76.20" text-anchor="end">0.4</text>
<text class="a" x="185.2" y="274.5" text-anchor="middle">T(MeV)</text>
<text class="a" x="530.5" y="274.7" text-anchor="middle">T(MeV)</text>
<g transform="translate(25.6,165.4) rotate(-90)"><text class="a" x="0" y="0">(GeV)</text><text class="a" font-style="italic" style="font-size:9.0px" x="-4.7" y="2.4">R</text><text class="a" font-style="italic" transform="translate(-13.2,0) scale(1.05,1)" x="0" y="0">ω</text></g>
<g transform="translate(368.3,165.1) rotate(-90)"><text class="a" x="0" y="0">(GeV)</text><text class="a" font-style="italic" style="font-size:8.5px" x="-2.6" y="1.6">I</text><text class="a" font-style="italic" transform="translate(-11.5,0) scale(1.0,1)" x="0" y="0">ω</text><rect x="-17.4" y="-3.45" width="4.3" height="0.9" fill="#000"/></g>
<path d="M72.0,76.80H98.2" stroke="#800080" stroke-width="1.6" stroke-dasharray="2.3 1.2 4.3 1.2" stroke-dashoffset="0" fill="none"/><text class="t" style="font-size:8.45px" x="104.0" y="80.10">q=0 GeV</text><path d="M72.0,91.00H98.2" stroke="#0000ff" stroke-width="1.6" stroke-dasharray="2.3 1.2 4.3 1.2" stroke-dashoffset="0" fill="none"/><text class="t" style="font-size:8.45px" x="104.0" y="94.30">q=1 GeV</text><path d="M72.0,105.20H98.2" stroke="#000000" stroke-width="1.6" stroke-dasharray="2.3 1.2 4.3 1.2" stroke-dashoffset="0" fill="none"/><text class="t" style="font-size:8.45px" x="104.0" y="108.50">q=2 GeV</text><path d="M72.0,119.40H98.2" stroke="#00ff00" stroke-width="1.6" stroke-dasharray="2.3 1.2 4.3 1.2" stroke-dashoffset="0" fill="none"/><text class="t" style="font-size:8.45px" x="104.0" y="122.70">q=3 GeV</text><path d="M72.0,133.60H98.2" stroke="#ff0000" stroke-width="1.6" stroke-dasharray="2.3 1.2 4.3 1.2" stroke-dashoffset="0" fill="none"/><text class="t" style="font-size:8.45px" x="104.0" y="136.90">q=4 GeV</text>
<path d="M420.8,79.60H447.0" stroke="#800080" stroke-width="1.6" stroke-dasharray="2.3 1.2 4.3 1.2" stroke-dashoffset="0" fill="none"/><text class="t" style="font-size:8.35px" x="453.0" y="82.30">q=0 GeV</text><path d="M420.8,93.90H447.0" stroke="#0000ff" stroke-width="1.6" stroke-dasharray="2.3 1.2 4.3 1.2" stroke-dashoffset="0" fill="none"/><text class="t" style="font-size:8.35px" x="453.0" y="96.60">q=1 GeV</text><path d="M420.8,108.20H447.0" stroke="#000000" stroke-width="1.6" stroke-dasharray="2.3 1.2 4.3 1.2" stroke-dashoffset="0" fill="none"/><text class="t" style="font-size:8.35px" x="453.0" y="110.90">q=2 GeV</text><path d="M420.8,122.50H447.0" stroke="#00ff00" stroke-width="1.6" stroke-dasharray="2.3 1.2 4.3 1.2" stroke-dashoffset="0" fill="none"/><text class="t" style="font-size:8.35px" x="453.0" y="125.20">q=3 GeV</text><path d="M420.8,136.80H447.0" stroke="#ff0000" stroke-width="1.6" stroke-dasharray="2.3 1.2 4.3 1.2" stroke-dashoffset="0" fill="none"/><text class="t" style="font-size:8.35px" x="453.0" y="139.50">q=4 GeV</text>
</svg></body></html>
